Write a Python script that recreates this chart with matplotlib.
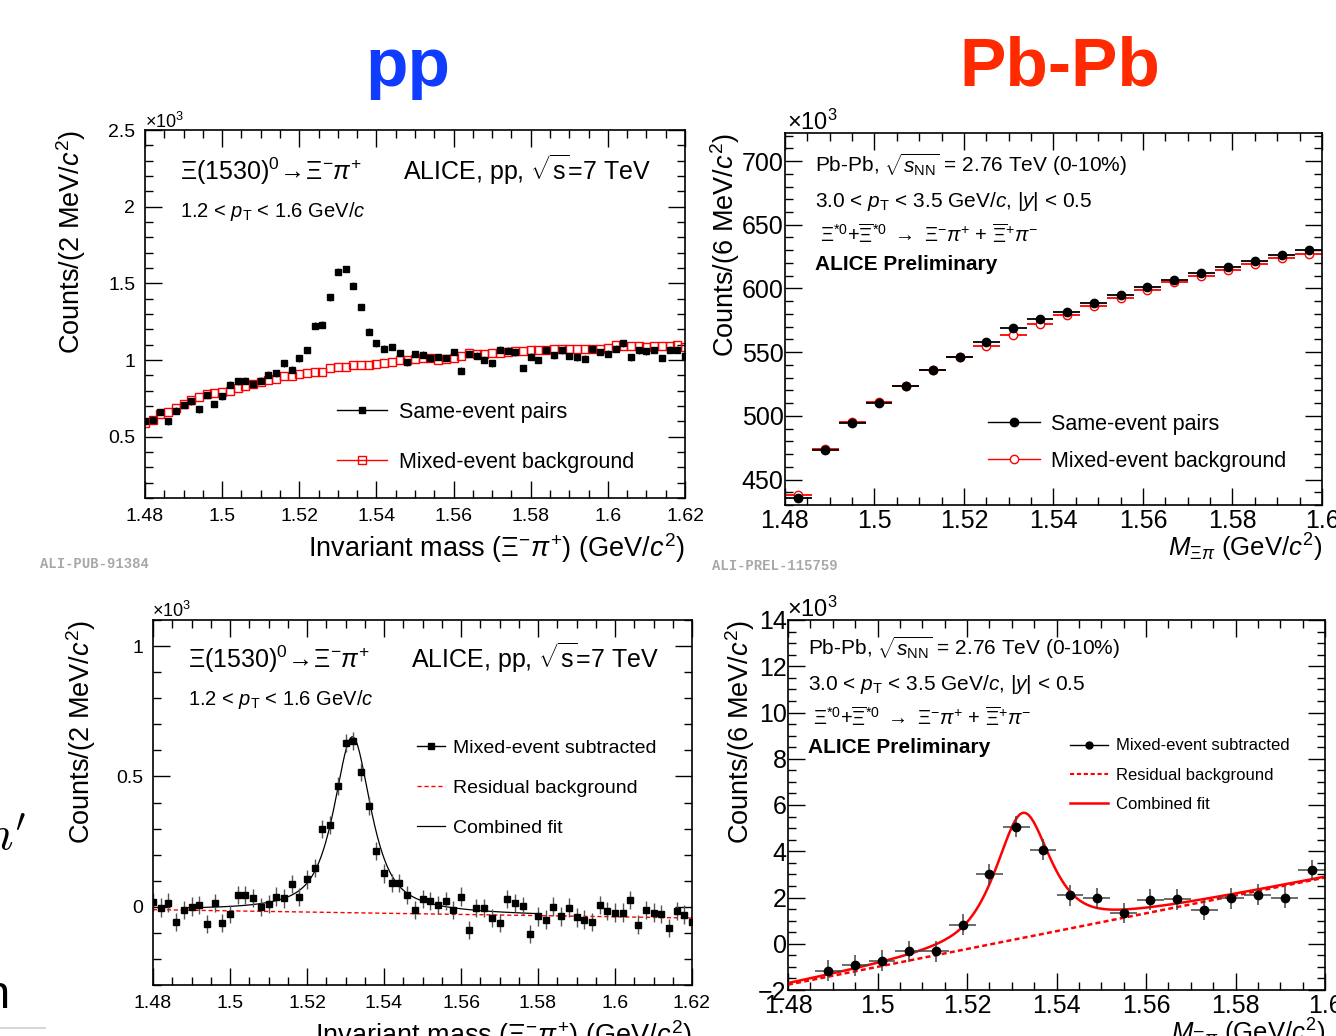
"""Xi(1530) invariant-mass spectra: pp (left) vs Pb-Pb (right), ALICE style."""
import numpy as np
import matplotlib
matplotlib.use('Agg')
import matplotlib.pyplot as plt
from matplotlib.ticker import MultipleLocator, FuncFormatter
from matplotlib.lines import Line2D

plt.rcParams.update({
    'font.family': ['Liberation Sans', 'DejaVu Sans'],
    'mathtext.fontset': 'custom',
    'mathtext.rm': 'Liberation Sans',
    'mathtext.it': 'Liberation Sans:italic',
    'mathtext.bf': 'Liberation Sans:bold',
    'axes.linewidth': 1.2,
})

# ── data: pp, 2 MeV bins ───────────────────────────────────────────────────
pp_mass = np.round(1.480 + 0.002 * np.arange(71), 3)
pp_same = [0.600, 0.611, 0.661, 0.600, 0.670, 0.707, 0.730, 0.678, 0.772, 0.713,
           0.763, 0.839, 0.861, 0.865, 0.843, 0.865, 0.904, 0.913, 0.978, 0.937,
           1.011, 1.065, 1.224, 1.230, 1.409, 1.576, 1.593, 1.485, 1.346, 1.185,
           1.109, 1.074, 1.085, 1.046, 0.985, 1.039, 1.035, 1.013, 1.020, 1.013,
           1.052, 0.930, 1.039, 1.028, 1.002, 0.978, 1.067, 1.061, 1.050, 0.948,
           1.022, 1.000, 1.063, 1.030, 1.063, 1.026, 1.017, 1.009, 1.074, 1.052,
           1.041, 1.074, 1.109, 1.017, 1.063, 1.057, 1.065, 1.013, 1.067, 1.067,
           1.026]
pp_mixed = [0.589, 0.611, 0.650, 0.661, 0.687, 0.713, 0.741, 0.759, 0.778, 0.785,
            0.789, 0.796, 0.817, 0.828, 0.843, 0.854, 0.867, 0.876, 0.893, 0.898,
            0.909, 0.915, 0.924, 0.924, 0.948, 0.952, 0.954, 0.965, 0.965, 0.970,
            0.976, 0.980, 0.987, 1.000, 1.002, 1.009, 1.011, 1.011, 0.998, 1.007,
            1.015, 1.028, 1.043, 1.041, 1.041, 1.046, 1.046, 1.052, 1.057, 1.061,
            1.063, 1.063, 1.067, 1.072, 1.072, 1.072, 1.072, 1.072, 1.072, 1.074,
            1.076, 1.100, 1.089, 1.089, 1.089, 1.085, 1.093, 1.089, 1.093, 1.100,
            1.085]
pp_sub = [0.019, -0.003, 0.016, -0.057, -0.011, 0.001, 0.008, -0.066, 0.014, -0.063,
          -0.028, 0.044, 0.046, 0.035, 0.000, 0.010, 0.039, 0.032, 0.086, 0.038,
          0.105, 0.149, 0.297, 0.313, 0.462, 0.627, 0.637, 0.516, 0.386, 0.215,
          0.128, 0.092, 0.092, 0.046, -0.011, 0.029, 0.023, 0.006, 0.023, -0.011,
          0.039, -0.089, -0.006, -0.006, -0.042, -0.063, 0.029, 0.014, 0.004, -0.104,
          -0.037, -0.049, 0.001, -0.037, -0.003, -0.041, -0.049, -0.059, 0.008, -0.015,
          -0.022, -0.022, 0.025, -0.068, -0.013, -0.022, -0.028, -0.081, -0.015, -0.030,
          -0.057]
pp_same_err = 0.022
pp_sub_err = 0.035
# fit parameters (peak + linear residual background)
pp_fit = dict(mass=1.5318, fwhm=0.0115, amp=0.675, eta=0.8,
              bg_lo=-0.011, bg_hi=-0.043, m_lo=1.48, m_hi=1.62)
pp_fit_range = (1.488, 1.580)

# ── data: Pb-Pb, 6 MeV bins ────────────────────────────────────────────────
pb_mass = np.round(1.483 + 0.006 * np.arange(20), 3)
pb_same = [435.3, 473.0, 494.5, 510.0, 523.3, 535.6, 546.3, 558.1, 568.8, 575.9,
           581.7, 588.7, 594.8, 601.3, 606.8, 612.0, 617.0, 621.5, 625.9, 630.4]
pb_mixed = [437.9, 474.0, 495.5, 510.7, 523.3, 535.6, 545.8, 555.0, 563.6, 571.7,
            579.1, 586.1, 592.7, 598.7, 604.7, 609.7, 614.4, 618.8, 623.8, 626.7]
pb_sub_mass = pb_mass[1:]
pb_sub = [-1.16, -0.94, -0.74, -0.32, -0.32, 0.83, 3.00, 5.06, 4.07, 2.09,
          1.96, 1.33, 1.90, 1.93, 1.46, 1.97, 2.12, 1.99, 3.19]
pb_sub_err = 0.45
pb_fit = dict(mass=1.5325, fwhm=0.0145, amp=5.41, eta=0.7,
              bg_lo=-1.77, bg_hi=2.86, m_lo=1.48, m_hi=1.60)
pb_fit_range = (1.480, 1.600)
half_bin_pb = 0.003


def residual_bg(m, p):
    return p['bg_lo'] + (p['bg_hi'] - p['bg_lo']) * (m - p['m_lo']) / (p['m_hi'] - p['m_lo'])


def combined(m, p):
    d = 2 * (m - p['mass']) / p['fwhm']
    shape = p['eta'] / (1 + d**2) + (1 - p['eta']) * np.exp(-np.log(2) * d**2)
    return residual_bg(m, p) + p['amp'] * shape


W, H = 1336, 1036
fig = plt.figure(figsize=(W / 100, H / 100), dpi=100)


def px_axes(x0, y0, x1, y1):
    return fig.add_axes([x0 / W, 1 - y1 / H, (x1 - x0) / W, (y1 - y0) / H])


def ftext(x, y, s, **kw):
    kw.setdefault('va', 'baseline')
    return fig.text(x / W, 1 - y / H, s, **kw)


fmt = FuncFormatter(lambda v, _: f'{v:g}'.replace('-', '\u2212'))


def root_style(ax, ylim, ymaj, ymin, fs, xlim=(1.48, 1.62), xpad=7, ypad=7):
    ax.set_xlim(*xlim)
    ax.set_ylim(*ylim)
    ax.xaxis.set_major_locator(MultipleLocator(0.02))
    ax.xaxis.set_minor_locator(MultipleLocator(0.005))
    ax.yaxis.set_major_locator(MultipleLocator(ymaj))
    ax.yaxis.set_minor_locator(MultipleLocator(ymin))
    ax.xaxis.set_major_formatter(fmt)
    ax.yaxis.set_major_formatter(fmt)
    ax.tick_params(which='both', direction='in', top=True, right=True,
                   labelsize=fs, width=1)
    ax.tick_params(which='major', length=12)
    ax.tick_params(which='minor', length=6)
    ax.tick_params(axis='x', which='major', pad=xpad)
    ax.tick_params(axis='y', which='major', pad=ypad)


ax_pp = px_axes(145, 130, 685, 498)
ax_pb = px_axes(785, 133, 1322, 505)
ax_pps = px_axes(153, 620, 692, 985)
ax_pbs = px_axes(788, 620, 1325, 990)

xl_pp = r'Invariant mass ($\Xi^{-}\pi^{+}$) (GeV/$c^{2}$)'
xl_pb = r'$M_{\Xi\pi}$ (GeV/$c^{2}$)'

# ── top-left: pp same-event vs mixed-event ─────────────────────────────────
root_style(ax_pp, (0.1, 2.5), 0.5, 0.1, 14)
ax_pp.plot(pp_mass, pp_mixed, 's', mfc='none', mec='red', ms=5.5, mew=1)
ax_pp.errorbar(pp_mass, pp_same, yerr=pp_same_err, fmt='s', color='k', ms=4.5,
               elinewidth=1, ecolor='#444444', capsize=0)
h = [Line2D([0], [0], color='k', lw=1, marker='s', ms=4.5),
     Line2D([0], [0], color='red', lw=1, marker='s', ms=5.5, mfc='none')]
ax_pp.legend(h, ['Same-event pairs', 'Mixed-event background'], loc='center left',
             bbox_to_anchor=(0.356, 0.165), frameon=False, fontsize=15.5,
             handlelength=2.3, handletextpad=0.55, labelspacing=1.35,
             borderpad=0, borderaxespad=0)
ax_pp.set_ylabel('Counts/(2 MeV/$c^{2}$)', fontsize=19.5, loc='top')
ax_pp.yaxis.set_label_coords(-0.105, 1.0)
ax_pp.set_xlabel(xl_pp, fontsize=19.5, loc='right')
ax_pp.xaxis.set_label_coords(1.0, -0.09)

# ── top-right: Pb-Pb same-event vs mixed-event ─────────────────────────────
root_style(ax_pb, (430, 722), 50, 10, 18, xlim=(1.48, 1.60), xpad=3, ypad=1)
ax_pb.errorbar(pb_mass, pb_mixed, xerr=half_bin_pb, fmt='o', color='red', mfc='white',
               ms=6, mew=1, elinewidth=1.3, capsize=0)
ax_pb.errorbar(pb_mass, pb_same, xerr=half_bin_pb, fmt='o', color='k', ms=6,
               elinewidth=1.3, capsize=0)
h = [Line2D([0], [0], color='k', lw=1, marker='o', ms=6),
     Line2D([0], [0], color='red', lw=1, marker='o', ms=6, mfc='white')]
ax_pb.legend(h, ['Same-event pairs', 'Mixed-event background'], loc='center left',
             bbox_to_anchor=(0.378, 0.167), frameon=False, fontsize=15.5,
             handlelength=2.4, handletextpad=0.55, labelspacing=0.75,
             borderpad=0, borderaxespad=0)
ax_pb.set_ylabel('Counts/(6 MeV/$c^{2}$)', fontsize=19.5, loc='top')
ax_pb.yaxis.set_label_coords(-0.08, 1.0)
ax_pb.set_xlabel(xl_pb, fontsize=18.5, loc='right')
ax_pb.xaxis.set_label_coords(1.0, -0.072)

# ── bottom-left: pp mixed-event subtracted ─────────────────────────────────
root_style(ax_pps, (-0.3, 1.1), 0.5, 0.1, 14)
m_bg = np.linspace(1.48, 1.62, 200)
ax_pps.plot(m_bg, residual_bg(m_bg, pp_fit), color='red', lw=1, ls=(0, (3, 2)))
m_fit = np.linspace(*pp_fit_range, 400)
ax_pps.plot(m_fit, combined(m_fit, pp_fit), color='k', lw=0.9)
ax_pps.errorbar(pp_mass, pp_sub, yerr=pp_sub_err, fmt='s', color='k', ms=4.5,
                elinewidth=1, ecolor='#555555', capsize=0)
h = [Line2D([0], [0], color='k', lw=1, marker='s', ms=4),
     Line2D([0], [0], color='red', lw=1, ls=(0, (3, 2))),
     Line2D([0], [0], color='k', lw=0.9)]
ax_pps.legend(h, ['Mixed-event subtracted', 'Residual background', 'Combined fit'],
              loc='center left', bbox_to_anchor=(0.49, 0.54), frameon=False,
              fontsize=14, handlelength=1.45, handletextpad=0.4, labelspacing=1.15,
              borderpad=0, borderaxespad=0)
ax_pps.set_ylabel('Counts/(2 MeV/$c^{2}$)', fontsize=19.5, loc='top')
ax_pps.yaxis.set_label_coords(-0.102, 1.0)
ax_pps.set_xlabel(xl_pp, fontsize=19.5, loc='right')
ax_pps.xaxis.set_label_coords(1.0, -0.09)

# ── bottom-right: Pb-Pb mixed-event subtracted ─────────────────────────────
root_style(ax_pbs, (-2, 14), 2, 0.5, 18, xlim=(1.48, 1.60), xpad=3, ypad=1)
m_bg = np.linspace(*pb_fit_range, 200)
ax_pbs.plot(m_bg, residual_bg(m_bg, pb_fit), color='red', lw=1.8, ls=(0, (2, 1.3)))
ax_pbs.plot(m_bg, combined(m_bg, pb_fit), color='red', lw=1.8)
ax_pbs.errorbar(pb_sub_mass, pb_sub, xerr=half_bin_pb, yerr=pb_sub_err, fmt='o',
                color='k', ms=6, elinewidth=1.1, ecolor='#444444', capsize=0)
h = [Line2D([0], [0], color='k', lw=1, marker='o', ms=5),
     Line2D([0], [0], color='red', lw=1.5, ls=(0, (2, 1.3))),
     Line2D([0], [0], color='red', lw=1.8)]
ax_pbs.legend(h, ['Mixed-event subtracted', 'Residual background', 'Combined fit'],
              loc='center left', bbox_to_anchor=(0.525, 0.581), frameon=False,
              fontsize=12, handlelength=2.3, handletextpad=0.45, labelspacing=0.85,
              borderpad=0, borderaxespad=0)
ax_pbs.set_ylabel('Counts/(6 MeV/$c^{2}$)', fontsize=19.5, loc='top')
ax_pbs.yaxis.set_label_coords(-0.058, 1.0)
ax_pbs.set_xlabel(xl_pb, fontsize=18.5, loc='right')
ax_pbs.xaxis.set_label_coords(1.0, -0.072)

# ── annotations ────────────────────────────────────────────────────────────
decay_pp = r'$\Xi$(1530)$^{0}\!\rightarrow\!\Xi^{-}\pi^{+}$'
alice_pp = r'ALICE, pp, $\sqrt{\mathrm{s}}$=7 TeV'
pt_pp = r'1.2 < $p_{\mathrm{T}}$ < 1.6 GeV/$c$'
for y0, dx in [(180, 0), (668, 8)]:
    ftext(180 + dx, y0, decay_pp, fontsize=18)
    ftext(403 + dx, y0, alice_pp, fontsize=18)
    ftext(180 + dx, y0 + 37, pt_pp, fontsize=14.5)

sys_pb = r'Pb-Pb, $\sqrt{s_{\mathrm{NN}}}$ = 2.76 TeV (0-10%)'
pt_pb = r'3.0 < $p_{\mathrm{T}}$ < 3.5 GeV/$c$, |$y$| < 0.5'
decay_pb = (r'$\Xi^{*0}$+$\overline{\Xi}^{*0}$ $\rightarrow$ '
            r'$\Xi^{-}\pi^{+}$ + $\overline{\Xi}^{+}\pi^{-}$')
for (x0, y0, gap) in [(815, 172, 35), (808, 655, 35)]:
    ftext(x0, y0, sys_pb, fontsize=15)
    ftext(x0, y0 + gap, pt_pb, fontsize=15)
    ftext(x0 + 5, y0 + 2 * gap + 1, decay_pb, fontsize=14.5)
    ftext(x0, y0 + 3 * gap - 7, 'ALICE Preliminary', fontsize=15, fontweight='bold')

ftext(145, 128, r'$\times10^{3}$', fontsize=13)
ftext(787, 130, r'$\times10^{3}$', fontsize=17)
ftext(152, 617, r'$\times10^{3}$', fontsize=13)
ftext(787, 617, r'$\times10^{3}$', fontsize=17)

ftext(408, 86, 'pp', fontsize=50, fontweight='bold', color='#0f3cff', ha='center')
ftext(1060, 85, 'Pb-Pb', fontsize=50, fontweight='bold', color='#ff2a00', ha='center')

ftext(40, 568, 'ALI-PUB-91384', fontsize=10, color='#a8a8a8',
      family='Liberation Mono', fontweight='bold')
ftext(712, 570, 'ALI-PREL-115759', fontsize=10, color='#a8a8a8',
      family='Liberation Mono', fontweight='bold')

# fragments of the slide text at the left edge
fig.text(-0.012, 1 - 850 / H, r"$n'$", fontsize=34, math_fontfamily='cm', va='baseline')
fig.text(-0.012, 1 - 1008 / H, 'n', fontsize=34, va='baseline')
fig.add_artist(Line2D([0, 45 / W], [1 - 1028 / H] * 2, color='#d0d0d0', lw=1.2))

fig.savefig('out.png', dpi=100)
